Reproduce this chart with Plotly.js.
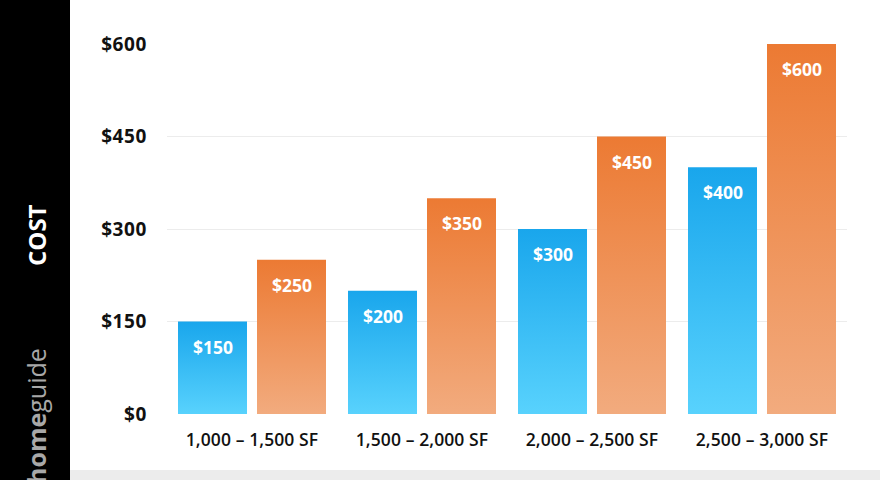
<!DOCTYPE html>
<html>
<head>
<meta charset="utf-8">
<script src="https://cdn.plot.ly/plotly-3.0.1.min.js"></script>
<style>
html,body{margin:0;padding:0;background:#fff;}
#chart{width:880px;height:480px;}
#chart .xtick text{letter-spacing:0.1px;}
#chart .ytick text{letter-spacing:0.6px;}
</style>
</head>
<body>
<div id="chart"></div>
<script>
// ---- data ----
const categories = ["1,000 – 1,500 SF", "1,500 – 2,000 SF", "2,000 – 2,500 SF", "2,500 – 3,000 SF"];
const lowCost = [150, 200, 300, 400];
const highCost = [250, 350, 450, 600];
const yTickVals = [0, 150, 300, 450, 600];
const yTickText = ["$0", "$150", "$300", "$450", "$600"];
const axisTitle = "COST";
const brandHome = "home";
const brandGuide = "guide";

// ---- layout constants ----
const W = 880, H = 480;
const M = {l: 167, r: 33, t: 44, b: 66};
const PW = W - M.l - M.r, PH = H - M.t - M.b;
const px2x = p => (p - M.l) / PW;
const py2y = p => (H - M.b - p) / PH;
const FONT = "Open Sans, sans-serif";

const barCommon = {
  type: "bar",
  x: categories,
  hoverinfo: "none",
  textposition: "none"
};
const traces = [
  Object.assign({}, barCommon, {name: "low", y: lowCost, marker: {color: "#2fb8f2"}}),
  Object.assign({}, barCommon, {name: "high", y: highCost, marker: {color: "#ef8d4c"}})
];

const fmt = v => "$" + v;
const annotations = [];
const shift = 39.5;
categories.forEach((c, i) => {
  annotations.push({x: c, y: lowCost[i], xref: "x", yref: "y", text: fmt(lowCost[i]),
    showarrow: false, xshift: -shift, yshift: -25, yanchor: "middle",
    font: {family: FONT, size: 17.5, color: "#ffffff", weight: 700}});
  annotations.push({x: c, y: highCost[i], xref: "x", yref: "y", text: fmt(highCost[i]),
    showarrow: false, xshift: shift, yshift: -25, yanchor: "middle",
    font: {family: FONT, size: 17.5, color: "#ffffff", weight: 700}});
});
annotations.push({xref: "paper", yref: "paper", x: px2x(36), y: py2y(235), text: axisTitle,
  textangle: -90, showarrow: false, xanchor: "center", yanchor: "middle",
  font: {family: FONT, size: 24, color: "#ffffff", weight: 700}});
annotations.push({xref: "paper", yref: "paper", x: px2x(36), y: py2y(416), text: "<b>" + brandHome + "</b>" + brandGuide,
  textangle: -90, showarrow: false, xanchor: "center", yanchor: "middle",
  font: {family: FONT, size: 25, color: "#a8a8a8", weight: 400}});

const layout = {
  width: W, height: H,
  margin: M,
  paper_bgcolor: "#ffffff",
  plot_bgcolor: "#ffffff",
  showlegend: false,
  barmode: "group",
  bargap: 0.0706,
  bargroupgap: 0.1266,
  font: {family: FONT, color: "#111111"},
  xaxis: {
    type: "category",
    showgrid: false, zeroline: false, showline: false, ticks: "",
    tickfont: {family: FONT, size: 17.5, color: "#111111", weight: 600},
    ticklabelstandoff: 13,
    fixedrange: true
  },
  yaxis: {
    range: [0, 600],
    tickvals: yTickVals, ticktext: yTickText,
    showgrid: true, gridcolor: "#ececec", gridwidth: 1,
    zeroline: false, showline: false, ticks: "",
    tickfont: {family: FONT, size: 19, color: "#111111", weight: 700},
    ticklabelstandoff: 19,
    fixedrange: true
  },
  shapes: [
    {type: "rect", xref: "paper", yref: "paper", x0: px2x(0), x1: px2x(70), y0: py2y(H), y1: py2y(0),
      fillcolor: "#000000", line: {width: 0}, layer: "below"},
    {type: "rect", xref: "paper", yref: "paper", x0: px2x(70), x1: px2x(W), y0: py2y(H), y1: py2y(470),
      fillcolor: "#ececec", line: {width: 0}, layer: "below"}
  ],
  annotations: annotations
};

Plotly.newPlot("chart", traces, layout, {staticPlot: true, displayModeBar: false}).then(gd => {
  const svg = gd.querySelector("svg.main-svg");
  const ns = "http://www.w3.org/2000/svg";
  let defs = svg.querySelector("defs");
  if (!defs) { defs = document.createElementNS(ns, "defs"); svg.insertBefore(defs, svg.firstChild); }
  const grads = [
    {id: "gBlue", top: "#19a6ec", bottom: "#58d2fd"},
    {id: "gOrange", top: "#ec7a33", bottom: "#f2ab7e"}
  ];
  grads.forEach(g => {
    const lg = document.createElementNS(ns, "linearGradient");
    lg.setAttribute("id", g.id);
    lg.setAttribute("x1", "0"); lg.setAttribute("y1", "0");
    lg.setAttribute("x2", "0"); lg.setAttribute("y2", "1");
    [[0, g.top], [1, g.bottom]].forEach(([o, c]) => {
      const s = document.createElementNS(ns, "stop");
      s.setAttribute("offset", o); s.setAttribute("stop-color", c);
      lg.appendChild(s);
    });
    defs.appendChild(lg);
  });
  const traceGroups = gd.querySelectorAll(".barlayer .trace");
  traceGroups.forEach((tg, i) => {
    tg.querySelectorAll("path").forEach(p => { p.style.fill = "url(#" + grads[i].id + ")"; });
  });
});
</script>
</body>
</html>
